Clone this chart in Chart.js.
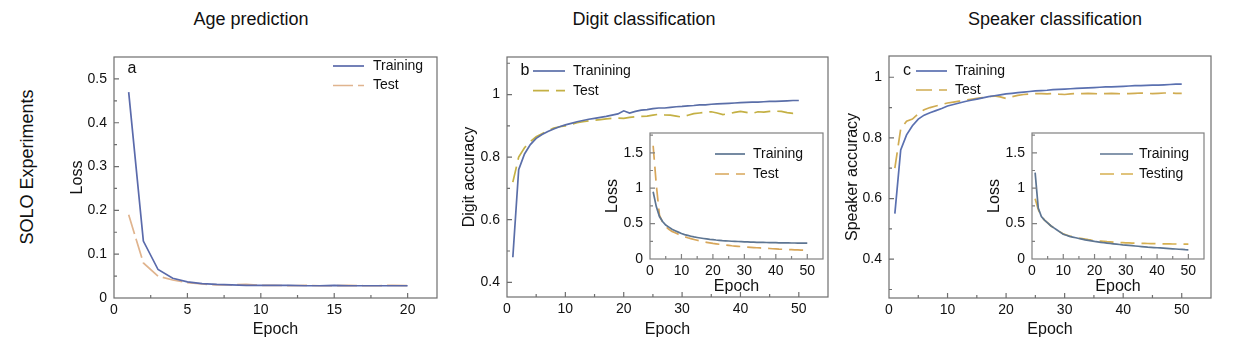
<!DOCTYPE html>
<html>
<head>
<meta charset="utf-8">
<script src="https://cdn.jsdelivr.net/npm/chart.js@4.4.0/dist/chart.umd.min.js"></script>
<style>
  body { margin: 0; background: #fff; width: 1246px; height: 352px; overflow: hidden; position: relative;
         font-family: "Liberation Sans", Arial, sans-serif; color: #111; }
  canvas { position: absolute; }
  .ttl { position: absolute; top: 9px; font-size: 18px; transform: translateX(-50%); white-space: nowrap; }
  .side { position: absolute; left: 27px; top: 167px; font-size: 18px; white-space: nowrap;
          transform: translate(-50%, -50%) rotate(-90deg); }
</style>
</head>
<body>
<div class="ttl" style="left:251px">Age prediction</div>
<div class="ttl" style="left:644px">Digit classification</div>
<div class="ttl" style="left:1055px">Speaker classification</div>
<div class="side">SOLO Experiments</div>

<canvas id="ageChart"></canvas>
<canvas id="digitChart"></canvas>
<canvas id="speakerChart"></canvas>
<canvas id="digitLoss"></canvas>
<canvas id="speakerLoss"></canvas>

<script>
// ---- data ----
const ageEpochs = [1,2,3,4,5,6,7,8,9,10,11,12,13,14,15,16,17,18,19,20];
const ageTrain = [0.47,0.13,0.065,0.045,0.037,0.033,0.031,0.030,0.029,0.029,0.029,0.029,0.028,0.028,0.029,0.028,0.028,0.028,0.028,0.028];
const ageTest  = [0.19,0.08,0.05,0.041,0.035,0.032,0.03,0.03,0.031,0.029,0.029,0.028,0.029,0.028,0.028,0.029,0.028,0.028,0.029,0.028];

const epochs50 = [1,2,3,4,5,6,7,8,9,10,11,12,13,14,15,16,17,18,19,20,21,22,23,24,25,
                  26,27,28,29,30,31,32,33,34,35,36,37,38,39,40,41,42,43,44,45,46,47,48,49,50];

const digitTrain = [0.48,0.76,0.81,0.84,0.86,0.872,0.882,0.89,0.897,0.903,
                    0.908,0.913,0.917,0.921,0.924,0.927,0.93,0.934,0.938,0.948,
                    0.941,0.946,0.95,0.952,0.955,0.957,0.957,0.959,0.961,0.962,
                    0.964,0.965,0.967,0.967,0.969,0.97,0.971,0.972,0.973,0.974,
                    0.975,0.976,0.976,0.977,0.978,0.978,0.979,0.98,0.981,0.981];
const digitTest  = [0.72,0.80,0.83,0.85,0.865,0.875,0.884,0.893,0.897,0.9,
                    0.905,0.91,0.913,0.916,0.918,0.92,0.922,0.924,0.925,0.924,
                    0.927,0.929,0.93,0.931,0.934,0.937,0.935,0.934,0.931,0.928,
                    0.934,0.939,0.941,0.943,0.945,0.941,0.936,0.939,0.943,0.946,
                    0.943,0.94,0.945,0.944,0.946,0.947,0.946,0.942,0.94,0.941];
const digitLossTrain = [0.95,0.74,0.6,0.53,0.48,0.45,0.42,0.4,0.38,0.36,
                        0.345,0.333,0.322,0.312,0.304,0.297,0.29,0.284,0.278,0.273,
                        0.268,0.264,0.26,0.257,0.254,0.251,0.249,0.247,0.245,0.243,
                        0.241,0.239,0.238,0.236,0.235,0.234,0.233,0.232,0.231,0.23,
                        0.229,0.228,0.228,0.227,0.226,0.226,0.225,0.225,0.224,0.224];
const digitLossTest  = [1.6,1.05,0.62,0.52,0.46,0.42,0.39,0.37,0.35,0.33,
                        0.315,0.3,0.288,0.276,0.265,0.255,0.245,0.236,0.228,0.22,
                        0.214,0.208,0.202,0.197,0.192,0.187,0.183,0.179,0.175,0.171,
                        0.168,0.165,0.162,0.159,0.156,0.153,0.15,0.148,0.145,0.143,
                        0.14,0.138,0.136,0.134,0.132,0.13,0.128,0.126,0.124,0.122];

const speakerTrain = [0.55,0.76,0.81,0.84,0.862,0.875,0.883,0.89,0.897,0.905,
                      0.91,0.915,0.92,0.924,0.928,0.932,0.936,0.939,0.942,0.945,
                      0.947,0.949,0.951,0.953,0.955,0.956,0.957,0.959,0.96,0.961,
                      0.962,0.963,0.964,0.965,0.966,0.967,0.968,0.968,0.969,0.97,
                      0.971,0.972,0.972,0.973,0.974,0.974,0.975,0.976,0.977,0.977];
const speakerTest  = [0.70,0.83,0.855,0.862,0.88,0.893,0.9,0.905,0.91,0.915,
                      0.918,0.921,0.924,0.927,0.93,0.933,0.936,0.938,0.935,0.93,
                      0.936,0.94,0.943,0.945,0.946,0.946,0.945,0.946,0.944,0.943,
                      0.945,0.946,0.946,0.947,0.946,0.945,0.946,0.947,0.946,0.945,
                      0.946,0.947,0.948,0.947,0.946,0.947,0.948,0.948,0.947,0.947];
const speakerLossTrain = [1.22,0.72,0.6,0.55,0.51,0.47,0.44,0.41,0.38,0.35,
                          0.335,0.32,0.31,0.3,0.29,0.28,0.27,0.262,0.255,0.248,
                          0.242,0.236,0.23,0.225,0.22,0.215,0.21,0.205,0.2,0.196,
                          0.192,0.188,0.184,0.18,0.176,0.172,0.168,0.165,0.162,0.159,
                          0.156,0.153,0.15,0.147,0.144,0.141,0.138,0.135,0.132,0.13];
const speakerLossTest  = [0.85,0.7,0.6,0.55,0.51,0.47,0.44,0.41,0.38,0.355,
                          0.34,0.325,0.315,0.305,0.295,0.287,0.28,0.273,0.267,0.262,
                          0.257,0.253,0.249,0.245,0.242,0.239,0.236,0.233,0.231,0.229,
                          0.227,0.225,0.224,0.222,0.221,0.22,0.219,0.218,0.217,0.216,
                          0.215,0.214,0.214,0.213,0.212,0.212,0.211,0.211,0.21,0.21];

// tick labels
const ageXTicks = [0,5,10,15,20];
const ageYTicks = [0,0.1,0.2,0.3,0.4,0.5];
const epochTicks = [0,10,20,30,40,50];
const accYTicks = [0.4,0.6,0.8,1];
const lossYTicks = [0,0.5,1,1.5];

const FONT = '"Liberation Sans", Arial, sans-serif';
Chart.defaults.font.family = FONT;
Chart.defaults.color = '#111';

// box around plot, inward ticks, panel letter and the in-plot legend
const framePlugin = {
  id: 'frame',
  afterDraw(chart, args, o) {
    const {ctx, chartArea: a} = chart;
    const xs = chart.scales.x, ys = chart.scales.y;
    ctx.save();
    ctx.strokeStyle = o.color;
    ctx.lineWidth = 1.2;
    ctx.strokeRect(a.left, a.top, a.right - a.left, a.bottom - a.top);
    ctx.beginPath();
    const isMajor = (list, v) => list.some(m => Math.abs(m - v) < 1e-6);
    for (let k = Math.ceil(xs.min / o.xStep - 1e-6); k * o.xStep <= xs.max + 1e-6; k++) {
      const v = k * o.xStep, p = xs.getPixelForValue(v);
      if (p <= a.left + 1 || p >= a.right - 1) continue;
      const len = isMajor(o.xMajor, v) ? 5 : 3;
      ctx.moveTo(p, a.bottom); ctx.lineTo(p, a.bottom - len);
    }
    for (let k = Math.ceil(ys.min / o.yStep - 1e-6); k * o.yStep <= ys.max + 1e-6; k++) {
      const v = k * o.yStep, p = ys.getPixelForValue(v);
      if (p >= a.bottom - 1 || p <= a.top + 1) continue;
      const len = isMajor(o.yMajor, v) ? 5 : 3;
      ctx.moveTo(a.left, p); ctx.lineTo(a.left + len, p);
    }
    ctx.stroke();

    ctx.fillStyle = '#111';
    ctx.textBaseline = 'middle';
    if (o.letter) {
      ctx.font = '16px ' + FONT;
      ctx.textAlign = 'center';
      ctx.fillText(o.letter, a.left + o.letterX, a.top + o.letterY);
    }
    ctx.font = '14px ' + FONT;
    ctx.textAlign = 'left';
    chart.data.datasets.forEach((d, i) => {
      const y = a.top + o.legY + i * o.legRow;
      const x0 = a.left + o.legX;
      ctx.strokeStyle = d.borderColor;
      ctx.lineWidth = d.borderWidth;
      ctx.setLineDash(d.borderDash || []);
      ctx.beginPath(); ctx.moveTo(x0, y); ctx.lineTo(x0 + o.legLen, y); ctx.stroke();
      ctx.setLineDash([]);
      ctx.fillText(d.label, x0 + o.legLen + o.legGap, y);
    });
    ctx.restore();
  }
};

function makeChart(id, box, area, cfg) {
  const cv = document.getElementById(id);
  cv.width = box.w; cv.height = box.h;
  cv.style.left = box.l + 'px'; cv.style.top = box.t + 'px';
  const lh = 16 * 1.2;
  return new Chart(cv, {
    type: 'line',
    data: {
      datasets: cfg.series.map(s => ({
        label: s.label,
        data: cfg.epochs.map((e, i) => ({x: e, y: s.values[i]})),
        borderColor: s.color,
        borderWidth: 1.7,
        borderDash: s.dash || [],
        pointRadius: 0,
        tension: 0,
        fill: false
      }))
    },
    options: {
      responsive: false,
      animation: false,
      devicePixelRatio: 1,
      layout: { padding: { left: 0, bottom: 0, top: area.t - box.t, right: box.l + box.w - area.r } },
      plugins: {
        legend: { display: false },
        tooltip: { enabled: false },
        frame: cfg.frame
      },
      scales: {
        x: {
          type: 'linear', min: cfg.xMin, max: cfg.xMax,
          grid: { display: false, drawTicks: false }, border: { display: false },
          ticks: { padding: 4, font: { size: 14 }, maxRotation: 0, autoSkip: false, callback: v => String(v) },
          afterBuildTicks: s => { s.ticks = cfg.xTicks.map(v => ({value: v})); },
          afterFit: s => { s.height = box.t + box.h - area.b; s.paddingLeft = 0; s.paddingRight = 0; },
          title: { display: true, text: 'Epoch', font: { size: 16 },
                   padding: { top: 0, bottom: box.t + box.h - cfg.xTitleY - lh / 2 } }
        },
        y: {
          type: 'linear', min: cfg.yMin, max: cfg.yMax,
          grid: { display: false, drawTicks: false }, border: { display: false },
          ticks: { padding: 7, font: { size: 14 }, autoSkip: false, callback: v => String(v) },
          afterBuildTicks: s => { s.ticks = cfg.yTicks.map(v => ({value: v})); },
          afterFit: s => { s.width = area.l - box.l; s.paddingTop = 0; s.paddingBottom = 0; },
          title: { display: true, text: cfg.yTitle, font: { size: 16 },
                   padding: { top: cfg.yTitleX - box.l - lh / 2, bottom: 0 } }
        }
      }
    },
    plugins: [framePlugin]
  });
}

makeChart('ageChart', {l: 60, t: 48, w: 385, h: 300}, {l: 114, t: 57, r: 437, b: 298}, {
  epochs: ageEpochs, xMin: 0, xMax: 22, yMin: 0, yMax: 0.55,
  xTicks: ageXTicks, yTicks: ageYTicks, yTitle: 'Loss', yTitleX: 77.7, xTitleY: 330,
  series: [
    {label: 'Training', values: ageTrain, color: '#5a6aab'},
    {label: 'Test', values: ageTest, color: '#e0b48e', dash: [20, 5]}
  ],
  frame: {color: '#6e6e6e', xStep: 2.5, xMajor: ageXTicks, yStep: 0.05, yMajor: ageYTicks,
          letter: 'a', letterX: 18, letterY: 12,
          legX: 219, legY: 9, legRow: 19.5, legLen: 31, legGap: 9}
});

makeChart('digitChart', {l: 455, t: 48, w: 380, h: 300}, {l: 507, t: 57, r: 828, b: 297}, {
  epochs: epochs50, xMin: 0, xMax: 55, yMin: 0.353, yMax: 1.12,
  xTicks: epochTicks, yTicks: accYTicks, yTitle: 'Digit accuracy', yTitleX: 470, xTitleY: 330,
  series: [
    {label: 'Tranining', values: digitTrain, color: '#5a6ea8'},
    {label: 'Test', values: digitTest, color: '#c4b044', dash: [16, 7]}
  ],
  frame: {color: '#6e6e6e', xStep: 5, xMajor: epochTicks, yStep: 0.1, yMajor: accYTicks,
          letter: 'b', letterX: 18, letterY: 14,
          legX: 26, legY: 14, legRow: 19.7, legLen: 32, legGap: 8}
});

makeChart('speakerChart', {l: 840, t: 48, w: 378, h: 300}, {l: 889, t: 56, r: 1211, b: 298}, {
  epochs: epochs50, xMin: 0, xMax: 55, yMin: 0.272, yMax: 1.07,
  xTicks: epochTicks, yTicks: accYTicks, yTitle: 'Speaker accuracy', yTitleX: 853, xTitleY: 330,
  series: [
    {label: 'Training', values: speakerTrain, color: '#5a70b0'},
    {label: 'Test', values: speakerTest, color: '#d0ac52', dash: [16, 7]}
  ],
  frame: {color: '#6e6e6e', xStep: 5, xMajor: epochTicks, yStep: 0.1, yMajor: accYTicks,
          letter: 'c', letterX: 18, letterY: 15,
          legX: 27, legY: 15, legRow: 19, legLen: 31, legGap: 8}
});

makeChart('digitLoss', {l: 598, t: 125, w: 228, h: 170}, {l: 650, t: 133, r: 823, b: 259}, {
  epochs: epochs50, xMin: 0, xMax: 55, yMin: 0, yMax: 1.78,
  xTicks: epochTicks, yTicks: lossYTicks, yTitle: 'Loss', yTitleX: 613, xTitleY: 287,
  series: [
    {label: 'Training', values: digitLossTrain, color: '#5d7592'},
    {label: 'Test', values: digitLossTest, color: '#d7a65a', dash: [14, 7]}
  ],
  frame: {color: '#808080', xStep: 5, xMajor: epochTicks, yStep: 0.25, yMajor: lossYTicks,
          letter: '', legX: 65, legY: 21, legRow: 20, legLen: 30, legGap: 8}
});

makeChart('speakerLoss', {l: 980, t: 125, w: 229, h: 170}, {l: 1032, t: 133, r: 1204, b: 259}, {
  epochs: epochs50, xMin: 0, xMax: 55, yMin: 0, yMax: 1.78,
  xTicks: epochTicks, yTicks: lossYTicks, yTitle: 'Loss', yTitleX: 995, xTitleY: 287,
  series: [
    {label: 'Training', values: speakerLossTrain, color: '#5d7592'},
    {label: 'Testing', values: speakerLossTest, color: '#d6b050', dash: [14, 7]}
  ],
  frame: {color: '#808080', xStep: 5, xMajor: epochTicks, yStep: 0.25, yMajor: lossYTicks,
          letter: '', legX: 68, legY: 21, legRow: 20, legLen: 33, legGap: 6}
});
</script>
</body>
</html>
